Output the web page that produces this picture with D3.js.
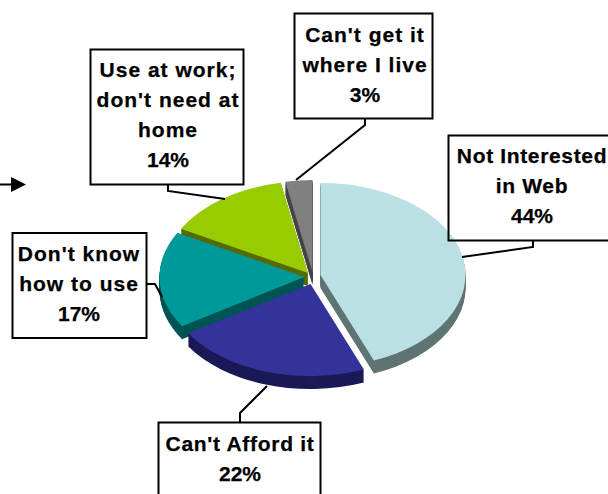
<!DOCTYPE html>
<html>
<head>
<meta charset="utf-8">
<style>
  html, body { margin: 0; padding: 0; background: #fff; overflow: hidden; }
  svg { display: block; }
  text { font-family: "Liberation Sans", Arial, sans-serif; font-weight: 700; font-size: 21px; fill: #000; text-anchor: middle; stroke: #000; stroke-width: 0.25px; }
</style>
<script src="https://cdn.jsdelivr.net/npm/d3@7"></script>
</head>
<body>
<script>
// Reasons for not having home web access, share of respondents
const categories = ["Not Interested in Web", "Can't Afford it", "Don't know how to use", "Use at work; don't need at home", "Can't get it where I live"];
const shares = [44, 22, 17, 14, 3];
const labelLines = [
  ["Not Interested", "in Web"],
  ["Can't Afford it"],
  ["Don't know", "how to use"],
  ["Use at work;", "don't need at", "home"],
  ["Can't get it", "where I live"]
];
const topColors = ["#bae0e4", "#333399", "#009999", "#99cc00", "#808080"];
const sideColors = ["#5f7474", "#1b1a57", "#005454", "#556b00", "#454545"];

const width = 608, height = 494;
const radius = 145, tilt = 0.634, depth = 13;

// Each slice is pulled away from the middle of the pie by its own offset
const hubs = [[320.5, 275], [310.5, 284], [304.5, 277], [308, 273], [312.5, 272]];
// Callout geometry: box [x, y, w, h], leader polyline, text anchor, first baseline, tracking
const callouts = [
  { box: [448.5, 135.5, 170, 105], leader: [[533, 241], [533, 247], [462, 257]], x: 532, y: 163, track: 0.65 },
  { box: [158.5, 422.5, 162, 90], leader: [[240, 422], [240, 413], [267, 386]], x: 240, y: 451, track: 0.7 },
  { box: [12.5, 233, 134, 105], leader: [[146, 284], [155, 284], [162, 297]], x: 79, y: 261, track: 1.0 },
  { box: [90.5, 49.5, 153, 135], leader: [[168, 184], [168, 191], [225, 199]], x: 168, y: 77, track: 1.0 },
  { box: [294.5, 13.5, 138, 105], leader: [[365, 118], [365, 125], [296, 180]], x: 365, y: 42, track: 1.0 }
];
const lineStep = 30;

const svg = d3.select("body").append("svg").attr("width", width).attr("height", height);

const pie = d3.pie().sort(null).value(d => d);
const arc = d3.arc().innerRadius(0).outerRadius(radius);
const slices = pie(shares).map((d, i) => ({ ...d, i }));

// Painted back to front so nearer walls cover the ones behind
const paintOrder = [4, 3, 2, 0, 1];
const pieGroup = svg.append("g");
paintOrder.forEach(i => {
  const d = slices[i];
  const [cx, cy] = hubs[i];
  const g = pieGroup.append("g").attr("class", "slice");
  // The wall is the slice outline swept downward
  g.selectAll("path.wall")
    .data(d3.range(depth, 0, -1))
    .join("path")
    .attr("class", "wall")
    .attr("transform", dy => `translate(${cx},${cy + dy}) scale(1,${tilt})`)
    .attr("d", arc(d))
    .attr("fill", sideColors[i]);
  g.append("path")
    .attr("transform", `translate(${cx},${cy}) scale(1,${tilt})`)
    .attr("d", arc(d))
    .attr("fill", topColors[i]);
});

// Callout boxes with leader lines and percentage labels
const line = d3.line();
const calloutGroups = svg.selectAll("g.callout")
  .data(callouts)
  .join("g")
  .attr("class", "callout");

calloutGroups.append("rect")
  .attr("x", d => d.box[0]).attr("y", d => d.box[1])
  .attr("width", d => d.box[2]).attr("height", d => d.box[3])
  .attr("fill", "none").attr("stroke", "#000").attr("stroke-width", 2);

calloutGroups.append("path")
  .attr("d", d => line(d.leader))
  .attr("fill", "none").attr("stroke", "#000").attr("stroke-width", 2);

calloutGroups.each(function (c, i) {
  const rows = [...labelLines[i], shares[i] + "%"];
  d3.select(this).selectAll("text")
    .data(rows)
    .join("text")
    .attr("x", c.x)
    .attr("y", (r, k) => c.y + k * lineStep)
    .attr("letter-spacing", (r, k) => k === rows.length - 1 ? "0px" : c.track + "px")
    .text(r => r);
});

// Arrow entering from the left edge
svg.append("line")
  .attr("x1", 0).attr("y1", 184.5).attr("x2", 13).attr("y2", 184.5)
  .attr("stroke", "#000").attr("stroke-width", 2);
svg.append("path")
  .attr("d", line([[11, 177], [26, 184.5], [11, 192]]) + "Z")
  .attr("fill", "#000");
</script>
</body>
</html>
